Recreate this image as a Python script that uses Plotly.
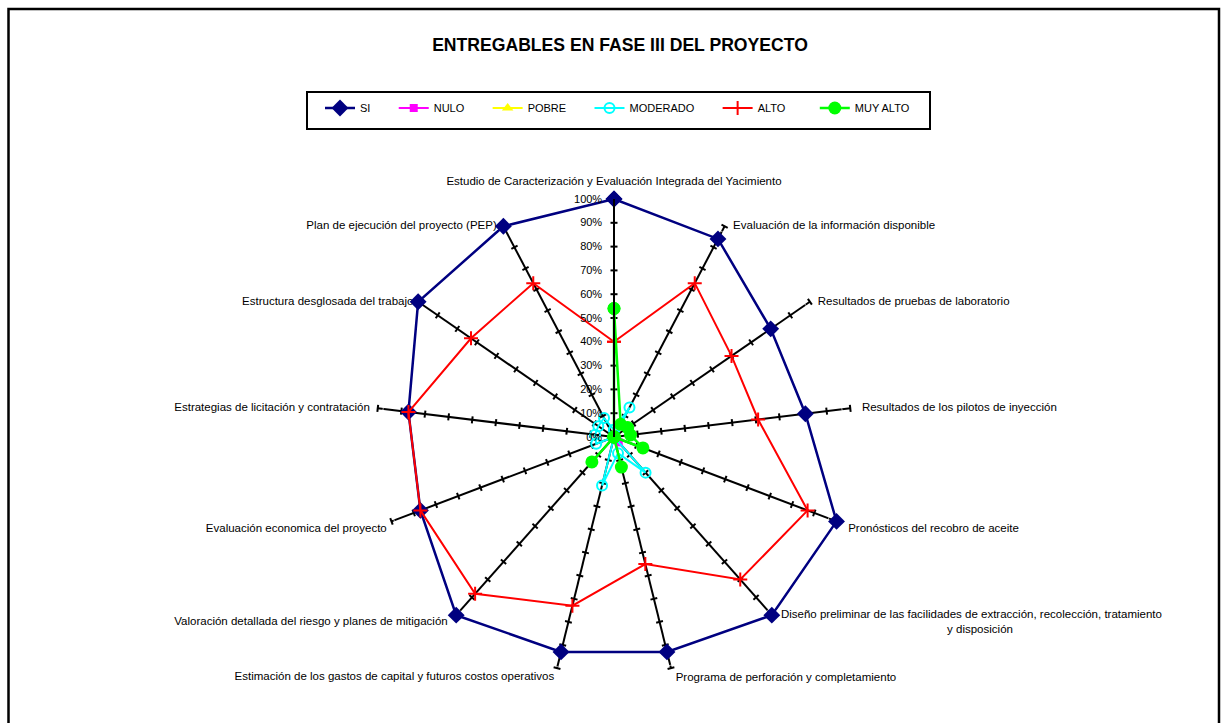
import plotly.graph_objects as go

categories = [
    "Estudio de Caracterización y Evaluación Integrada del Yacimiento",
    "Evaluación de la información disponible",
    "Resultados de pruebas de laboratorio",
    "Resultados de los pilotos de inyección",
    "Pronósticos del recobro de aceite",
    "Diseño preliminar de las facilidades de extracción, recolección, tratamiento y disposición",
    "Programa de perforación y completamiento",
    "Estimación de los gastos de capital y futuros costos operativos",
    "Valoración detallada del riesgo y planes de mitigación",
    "Evaluación economica del proyecto",
    "Estrategias de licitación y contratación",
    "Estructura desglosada del trabajo",
    "Plan de ejecución del proyecto (PEP)",
]
# label text as displayed (line break in the long one; lower labels sit a bit lower)
category_labels = [
    categories[0], categories[1], categories[2], categories[3],
    "<br>" + categories[4],
    "<br>Diseño preliminar de las facilidades de extracción, recolección, tratamiento<br>"
    + "\u00a0" * 52 + "y disposición",
    categories[6], categories[7],
    "<br>" + categories[8],
    "<br>" + categories[9],
    categories[10], categories[11], categories[12],
]

si = [100, 94, 80, 81, 100, 100, 93, 93, 100, 87, 87, 100, 100]
nulo = [0, 0, 0, 0, 0, 3, 0, 0, 0, 0, 0, 0, 0]
pobre = [0, 0, 0, 0, 0, 0, 0, 0, 0, 0, 0, 0, 0]
moderado = [3, 14, 0, 0, 0, 20, 7, 21, 0, 8, 8, 8, 9]
alto = [40, 73, 60, 61, 87, 80, 55, 73, 88, 87, 87, 73, 73]
muy_alto = [54, 6, 7, 7, 13, 0, 13, 0, 14, 0, 0, 0, 0]

tick_values = [10, 20, 30, 40, 50, 60, 70, 80, 90, 100]
tick_labels = ["0%", "10%", "20%", "30%", "40%", "50%", "60%", "70%", "80%", "90%", "100%"]

# label placement around the spoke ends
label_pos = ["top center", "middle right", "middle right", "middle right", "middle right",
             "middle right", "bottom right", "bottom left", "middle left", "middle left",
             "middle left", "middle left", "middle left"]
label_pad = [16, 12, 11, 17, 17, 13, 6, 3, 12, 6, 11, 6, 9]

series = [
    ("SI", si, "#000080", "diamond", 13, 2.5),
    ("NULO", nulo, "#FF00FF", "square", 8, 2),
    ("POBRE", pobre, "#FFFF00", "triangle-up", 10, 2),
    ("MODERADO", moderado, "#00FFFF", "circle-open", 10, 2),
    ("ALTO", alto, "#FF0000", "cross-thin-open", 10, 2),
    ("MUY ALTO", muy_alto, "#00FF00", "circle", 13, 2.5),
]
legend_pad = [6, 6, 6, 6, 8, 0]

fig = go.Figure()

n = len(categories)
# category labels at the spoke ends
fig.add_trace(go.Scatterpolar(
    r=[100] * n, theta=categories, mode="markers+text", text=category_labels,
    textposition=label_pos, showlegend=False, hoverinfo="skip",
    textfont=dict(size=11.5, color="black"),
    marker=dict(size=label_pad, color="rgba(0,0,0,0)"),
))

# tick marks on every spoke
tk_theta, tk_r, tk_ang = [], [], []
for i, c in enumerate(categories):
    for v in tick_values:
        tk_theta.append(c)
        tk_r.append(v)
        tk_ang.append(i * 360.0 / n)
fig.add_trace(go.Scatterpolar(
    r=tk_r, theta=tk_theta, mode="markers", showlegend=False, hoverinfo="skip",
    marker=dict(symbol="line-ew", size=5, angle=tk_ang,
                line=dict(color="black", width=2), color="black"),
))

for (name, vals, color, sym, size, lw), pad in zip(series, legend_pad):
    fig.add_trace(go.Scatterpolar(
        r=vals + vals[:1], theta=categories + categories[:1], name=name + "\u00a0" * pad,
        mode="lines+markers",
        line=dict(color=color, width=lw),
        marker=dict(symbol=sym, size=size, color=color,
                    line=dict(color=color, width=2 if "open" in sym else 0)),
    ))

W, H = 1227, 723
cx, cy, R = 614, 437, 238

fig.update_layout(
    width=W, height=H,
    margin=dict(l=0, r=0, t=0, b=0),
    paper_bgcolor="white", plot_bgcolor="white",
    font=dict(family="Liberation Sans, Arial, sans-serif", size=11, color="black"),
    title=dict(text="<b>ENTREGABLES EN FASE III DEL PROYECTO</b>",
               x=620 / W, xanchor="center", y=1 - 45 / H, yanchor="middle",
               font=dict(size=17.6, color="black")),
    showlegend=True,
    legend=dict(orientation="h", x=320 / W, xanchor="left",
                y=1 - 108 / H, yanchor="middle",
                font=dict(size=11), bgcolor="rgba(0,0,0,0)", itemwidth=30),
    polar=dict(
        domain=dict(x=[(cx - R) / W, (cx + R) / W], y=[1 - (cy + R) / H, 1 - (cy - R) / H]),
        bgcolor="white",
        radialaxis=dict(range=[0, 100], angle=90, tickangle=90, side="counterclockwise",
                        tickvals=[0] + tick_values, ticktext=tick_labels,
                        showgrid=False, showline=True, linecolor="black", linewidth=2,
                        ticks="outside", ticklen=7, tickcolor="rgba(0,0,0,0)",
                        tickfont=dict(size=11, color="black")),
        angularaxis=dict(direction="clockwise", rotation=90, showline=False,
                         showgrid=True, gridcolor="black", gridwidth=2,
                         ticks="", showticklabels=False),
    ),
    shapes=[
        dict(type="rect", xref="paper", yref="paper",
             x0=8.5 / W, x1=1219 / W, y0=-0.05, y1=1 - 9 / H,
             line=dict(color="black", width=2.5)),
        dict(type="rect", xref="paper", yref="paper",
             x0=307 / W, x1=930 / W, y0=1 - 129 / H, y1=1 - 92 / H,
             line=dict(color="black", width=2)),
    ],
)

fig.write_html("out.html")
